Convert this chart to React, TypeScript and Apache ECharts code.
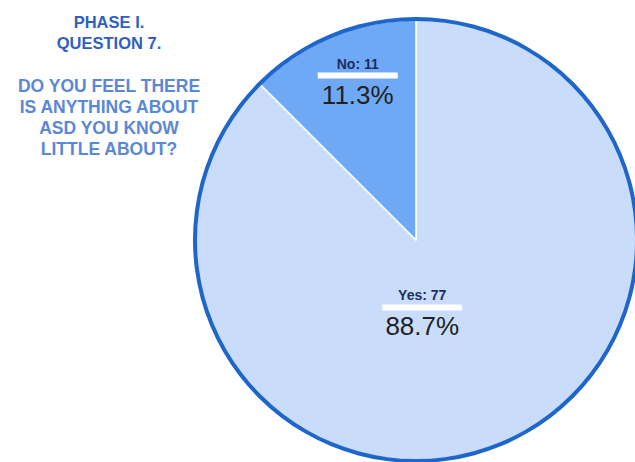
import React, { useEffect, useRef } from "react";
import * as echarts from "echarts";

const categories = ["Yes", "No"];
const counts = [77, 11];
const percentLabels = ["88.7%", "11.3%"];
const sliceColors = ["#c9ddfb", "#6fa8f5"];
const titleLines = ["PHASE I.", "QUESTION 7."];
const questionLines = ["DO YOU FEEL THERE", "IS ANYTHING ABOUT", "ASD YOU KNOW", "LITTLE ABOUT?"];

export default function App() {
  const ref = useRef<HTMLDivElement>(null);
  useEffect(() => {
    if (!ref.current) return;
    const chart = echarts.init(ref.current, null, { renderer: "svg" });
    const labelOffsets = [
      [-37, -30],
      [-15, -53],
    ];
    const option = {
      animation: false,
      backgroundColor: "#ffffff",
      title: [
        {
          text: titleLines.join("\n"),
          left: 104,
          top: 6,
          textAlign: "center",
          textStyle: {
            fontFamily: "Liberation Sans, Arial, sans-serif",
            fontWeight: "bold",
            fontSize: 16.5,
            lineHeight: 21,
            color: "#2f5fc0",
          },
        },
        {
          text: questionLines.join("\n"),
          left: 104,
          top: 70,
          textAlign: "center",
          textStyle: {
            fontFamily: "Liberation Sans, Arial, sans-serif",
            fontWeight: "bold",
            fontSize: 17.5,
            lineHeight: 21,
            color: "#5a88d6",
          },
        },
      ],
      series: [
        {
          type: "pie",
          center: [416, 240],
          radius: [0, 220],
          startAngle: 90,
          clockwise: true,
          avoidLabelOverlap: false,
          labelLine: { show: false },
          itemStyle: { borderColor: "#ffffff", borderWidth: 1.5 },
          emphasis: { disabled: true },
          data: categories.map((c, i) => ({
            name: c,
            value: counts[i],
            itemStyle: { color: sliceColors[i] },
            label: {
              show: true,
              position: "inside",
              offset: labelOffsets[i],
              formatter: `{a|${c}: ${counts[i]}}\n{bar| }\n{c|${percentLabels[i]}}`,
              rich: {
                a: {
                  fontFamily: "Liberation Sans, Arial, sans-serif",
                  fontWeight: "bold",
                  fontSize: 14,
                  lineHeight: 16,
                  color: "#1b2f5e",
                  align: "center",
                },
                bar: {
                  width: 80,
                  height: 6,
                  lineHeight: 8,
                  backgroundColor: "#ffffff",
                  align: "center",
                  fontSize: 1,
                },
                c: {
                  fontFamily: "Liberation Sans, Arial, sans-serif",
                  fontSize: 26,
                  lineHeight: 30,
                  color: "#222222",
                  align: "center",
                },
              },
            },
          })),
        },
        {
          type: "pie",
          center: [416, 240],
          radius: [219, 223],
          silent: true,
          label: { show: false },
          labelLine: { show: false },
          itemStyle: { color: "#1f66cc" },
          data: [{ value: 1, name: "ring" }],
        },
      ],
    };
    chart.setOption(option as any);
    return () => chart.dispose();
  }, []);
  return (
    <div
      ref={ref}
      style={{ position: "fixed", left: 0, top: 0, width: 635, height: 462 }}
    />
  );
}
